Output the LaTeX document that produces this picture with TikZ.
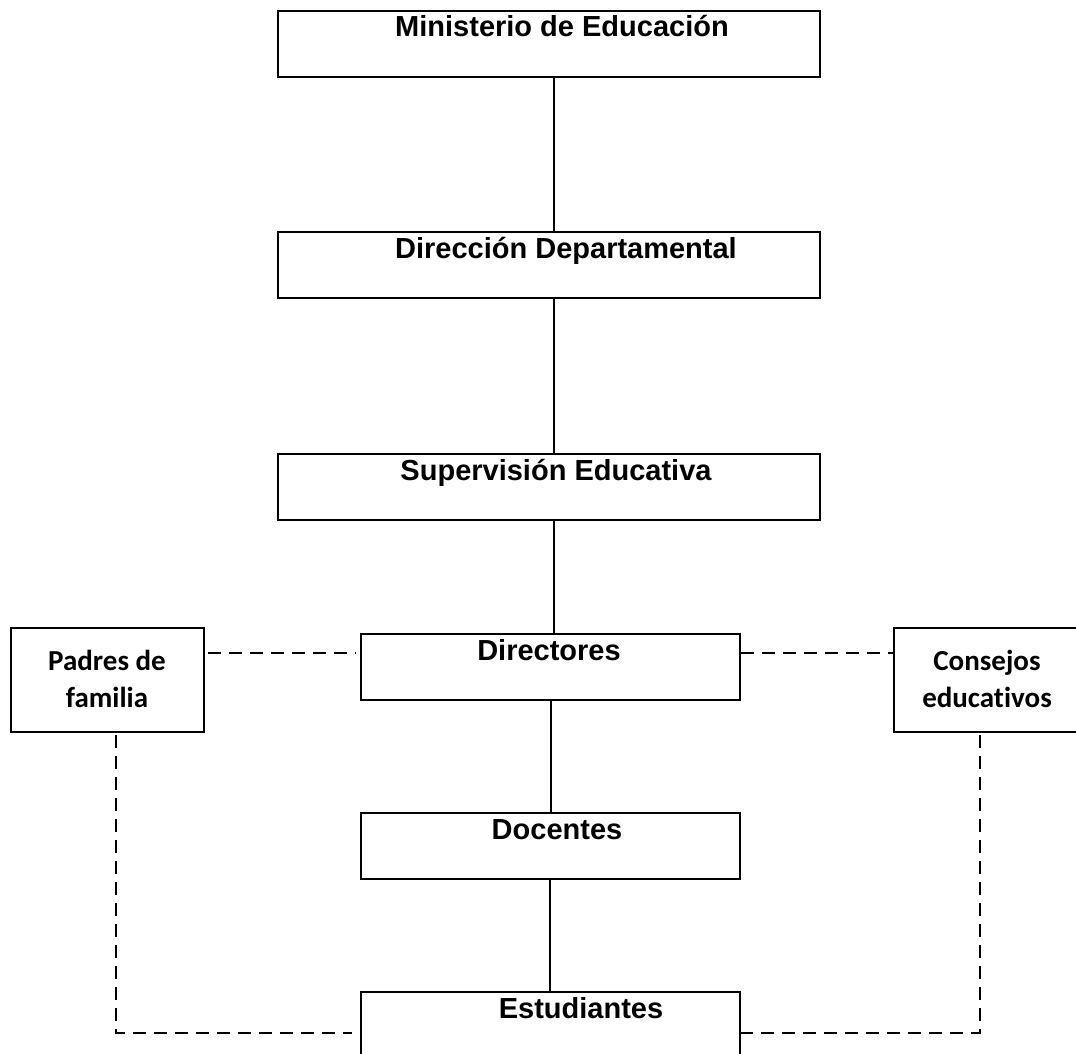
\documentclass[tikz,border=0pt]{standalone}
\usepackage{fontspec}
\setmainfont{Liberation Sans}
\newfontfamily\calfont[Ligatures=CommonOff]{Carlito}
\begin{document}
\begin{tikzpicture}[x=1pt,y=-1pt,
  box/.style={draw=black, line width=2pt, rectangle, inner sep=0pt, anchor=north west},
  lbl/.style={font=\fontsize{29}{33}\selectfont\bfseries, anchor=base, inner sep=0pt},
  slbl/.style={font=\calfont\fontsize{29}{37}\selectfont\bfseries, align=center, inner sep=0pt, anchor=base},
  conn/.style={line width=1.4pt},
  dashconn/.style={line width=1.4pt, dash pattern=on 13pt off 8pt}]
\useasboundingbox (0,0) rectangle (1076,1054);
\fill[white] (0,0) rectangle (1076,1054);
% boxes
\node[box, minimum width=542pt, minimum height=66pt] (m) at (277,10) {};
\node[box, minimum width=542pt, minimum height=66pt] (dd) at (277,231) {};
\node[box, minimum width=542pt, minimum height=66pt] (s) at (277,453) {};
\node[box, minimum width=379pt, minimum height=66pt] (dr) at (360,633) {};
\node[box, minimum width=379pt, minimum height=66pt] (dc) at (360,812) {};
\node[box, minimum width=379pt, minimum height=70pt] (e) at (360,991) {};
\node[box, minimum width=193pt, minimum height=104pt] (p) at (10,627) {};
\node[box, minimum width=190pt, minimum height=104pt] (c) at (893,627) {};
% texts
\node[lbl] (tm) at (562,37) {Ministerio de Educación};
\node[lbl] (tdd) at (566,258) {Dirección Departamental};
\node[lbl] (ts) at (556,480) {Supervisión Educativa};
\node[lbl] (tdr) at (549,660) {Directores};
\node[lbl] (tdc) at (557,839) {Docentes};
\node[lbl] (te) at (581,1018) {Estudiantes};
\node[slbl] (tp) at (107,707) {Padres de\\familia};
\node[slbl] (tc) at (987,707) {Consejos\\educativos};
% solid connectors
\draw[conn] ([xshift=5pt]m.south) -- ([xshift=5pt]dd.north);
\draw[conn] ([xshift=5pt]dd.south) -- ([xshift=5pt]s.north);
\draw[conn] ([xshift=5pt]s.south) -- ([xshift=5pt]s.south |- dr.north);
\draw[conn] ([xshift=0.5pt]dr.south) -- ([xshift=0.5pt]dr.south |- dc.north);
\draw[conn] ([xshift=-0.5pt]dc.south) -- ([xshift=-0.5pt]dc.south |- e.north);
% dashed connectors
\coordinate (dl) at ([yshift=14pt]dr.west);
\coordinate (drr) at ([yshift=14pt]dr.east);
\draw[dashconn] ([xshift=3pt]p.east |- dl) -- ([xshift=-4pt]dl);
\draw[dashconn] (drr) -- (c.west |- drr);
\coordinate (el) at ([yshift=-6pt]e.west);
\coordinate (er) at ([yshift=-6pt]e.east);
\draw[dashconn] ([xshift=8.5pt,yshift=-2pt]p.south) |- ([xshift=-8pt]el);
\draw[dashconn] ([xshift=-9pt,yshift=-2pt]c.south) |- ([xshift=-6pt]er);
\end{tikzpicture}
\end{document}
